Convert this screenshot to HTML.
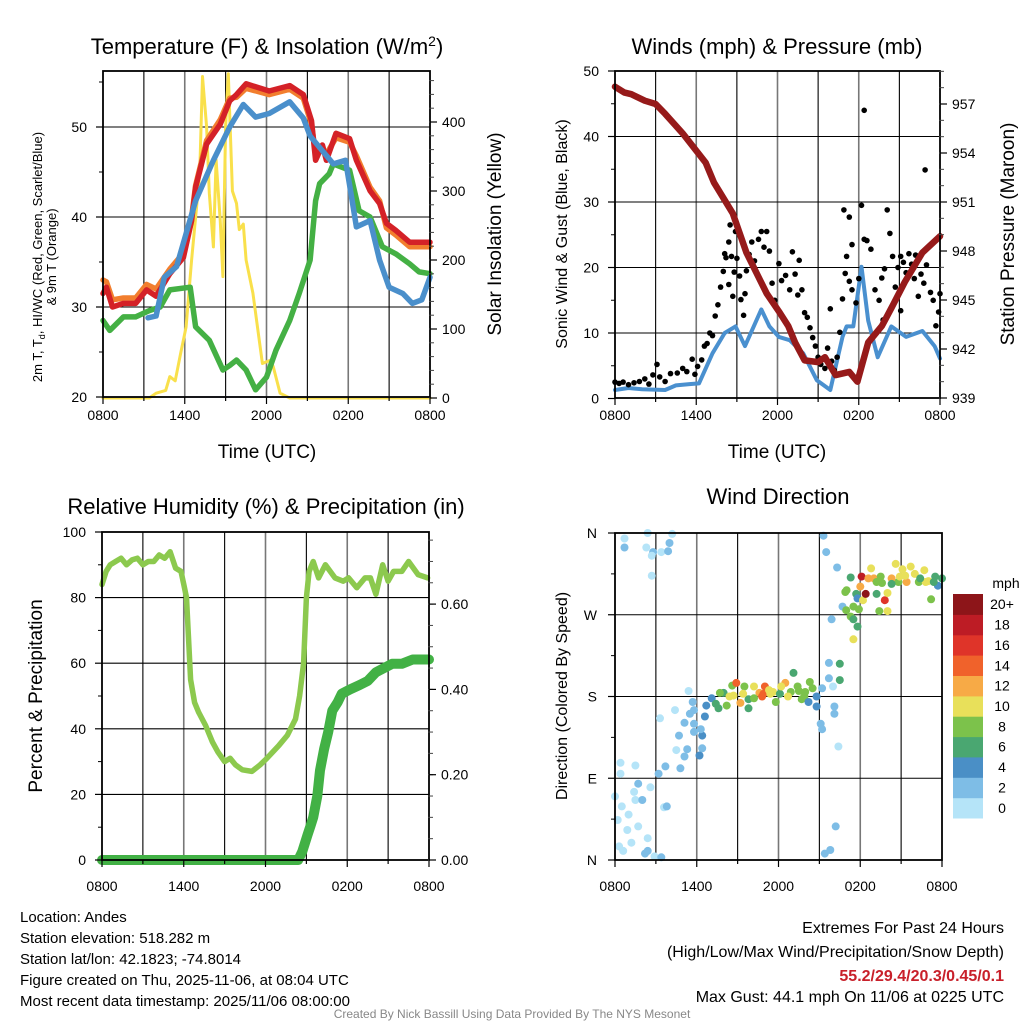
<!DOCTYPE html>
<html><head><meta charset="utf-8"><style>
html,body{margin:0;padding:0;background:#fff}
svg{display:block;font-family:"Liberation Sans",sans-serif}
</style></head><body>
<svg id="fig" width="1024" height="1024" viewBox="0 0 1024 1024" xmlns="http://www.w3.org/2000/svg">
<rect width="1024" height="1024" fill="#fff"/>
<g id="p1"></g>
<g id="p2"></g>
<g id="p3"></g>
<g id="p4"></g>
<g font-size="15" fill="#000">
<text x="20" y="922">Location: Andes</text>
<text x="20" y="943">Station elevation: 518.282 m</text>
<text x="20" y="964">Station lat/lon: 42.1823; -74.8014</text>
<text x="20" y="985">Figure created on Thu, 2025-11-06, at 08:04 UTC</text>
<text x="20" y="1006">Most recent data timestamp: 2025/11/06 08:00:00</text>
</g>
<g font-size="16" text-anchor="end">
<text x="1004" y="933">Extremes For Past 24 Hours</text>
<text x="1004" y="957">(High/Low/Max Wind/Precipitation/Snow Depth)</text>
<text x="1004" y="981" fill="#c8202a" font-weight="bold">55.2/29.4/20.3/0.45/0.1</text>
<text x="1004" y="1002">Max Gust: 44.1 mph On 11/06 at 0225 UTC</text>
</g>
<text x="512" y="1018" text-anchor="middle" font-size="12" fill="#888">Created By Nick Bassill Using Data Provided By The NYS Mesonet</text>
</svg>
<script>
// ---------- DATA ----------
const xTickLabels = ["0800","1400","2000","0200","0800"];
const tRed = [0,0.25,0.7,1.5,2.4,3.2,3.9,4.9,5.9,6.5,6.8,7.6,8.6,9.3,9.8,10.5,12.2,13.7,14.7,15.3,15.6,16.1,16.4,17.1,18.1,18.6,19.6,20.3,20.8,21.5,22.5,24];
const tempRed = [31.5,32.2,30,30.4,30.4,31.9,31.2,33.7,35.5,39.6,43.3,48.1,50.3,52.9,53.6,54.8,54,54.6,53.6,50.7,46.3,48,46.3,49.3,48.7,46.3,42.9,41.5,39.3,38.5,37.2,37.2];
const tempOrange = [33,32.8,30.8,31,31,32.5,32,34.2,36,40,43.5,48.5,50.8,53.2,53.3,54.3,53.6,54.2,53.2,50.3,47,47.5,47,48.8,48.3,46.8,43.3,41.8,38.8,38,36.7,36.7];
const tBlue = [3.3,3.9,4.5,5.4,6.8,8.1,9.3,10.3,11.2,12.2,13.7,14.7,15.2,16.9,17.8,18.2,18.6,19.6,20.3,21.0,22.0,22.7,23.4,24];
const tempBlue = [28.8,29,33.3,34.5,41.8,46.3,50,52.5,51.1,51.5,52.8,51,49,45.9,46.3,42.6,38.9,39.6,35.2,32.2,31.5,30.4,30.8,33.3];
const tGreen = [0,0.5,1.5,2.4,3.4,4.2,4.9,6.4,6.8,7.8,8.8,9.3,9.8,10.5,11.2,12,12.7,13.7,14.4,15.2,15.6,15.9,16.6,16.9,18.1,18.8,19.6,20.5,21.5,22.5,23.2,24];
const tempGreen = [28.5,27.4,28.9,28.9,29.6,30,31.9,32.2,27.8,26.3,23,23.5,24.1,23,20.8,22.2,25.2,28.5,31.5,35.2,41.8,43.7,44.8,45.9,45.2,40.7,40,36.7,35.9,34.8,33.9,33.7];
const tSolar = [0,3.4,3.9,4.6,4.9,5.3,5.7,6.1,6.5,7.1,7.3,7.6,7.8,8.1,8.3,8.6,8.8,9.0,9.2,9.5,9.8,10.0,10.3,10.5,11.0,11.5,11.7,12.3,12.5,13.0,13.7,24];
const solar = [0,0,7,11,31,25,65,103,200,325,466,393,297,219,345,258,176,393,470,300,282,244,252,200,152,79,50,55,45,7,0,0];
const tWind = [0,1,2,3.7,4.5,5.5,6.2,7.2,8.1,8.9,9.6,10.8,11.4,12.1,12.9,13.9,14.9,15.9,16.8,17.1,17.6,18.2,18.7,19.4,20.4,21.5,22.7,23.6,24];
const windSpeed = [1.3,1.6,1.4,1.3,2.0,2.2,2.3,6.9,10,11,8,13.6,11,9.4,8.9,6.9,2.8,1.3,9.4,11,11,20.1,11.9,6.3,11,9.4,10.3,8.0,6.1];
const gustT = [0,0.3,0.6,1,1.4,1.8,2.2,2.5,2.8,3.1,3.3,3.7,4.1,4.6,5,5.3,5.7,5.9,6.1,6.4,6.6,6.8,7,7.2,7.4,7.6,7.8,8.0,8.1,8.2,8.4,8.5,8.6,8.8,8.7,8.4,8.9,9.0,9.2,9.3,9.5,9.6,9.7,9.9,10.1,10.3,10.6,10.8,11,11.2,11.4,11.6,11.8,12.1,12.3,12.6,12.9,13.1,13.3,13.5,13.6,13.8,14.0,14.2,14.4,14.6,14.8,15.0,15.2,15.5,15.7,16,16.2,16.4,15.9,16.6,16.8,17.0,17.1,17.3,17.5,16.9,17.3,17.5,17.8,18,18.2,18.4,18.6,18.9,18.4,19.2,19.5,19.7,19.9,20.1,20.3,20.5,20.7,20.9,21.1,21.3,21.5,21.7,21.9,22.1,22.4,22.6,22.8,23,22.9,23.3,23.5,23.7,23.9,24,22.2,21.1,19.8];
const gustV = [2.5,2.3,2.5,2.1,2.4,2.6,3.0,2.2,3.6,5.2,3.3,2.6,3.8,3.9,4.6,4.1,6.0,3.7,4.9,5.9,8.0,8.4,10,9.6,12.6,14.3,17,19.4,22.1,21.5,23.9,26.5,21.7,19.3,15.6,17.4,25.5,21.4,18.7,15.1,12.7,16.0,19.5,22.0,23.9,21.0,24.3,25.5,23.1,25.5,22.5,17.6,15.0,20.6,18.0,18.8,16.6,22.4,19.0,15.8,21.1,16.6,13.1,12.4,10.8,9.3,8.0,6.3,5.2,4.6,7.7,5.7,4.3,6.3,13.7,10.1,15.2,19.1,21.7,17.9,16.6,28.8,27.7,23.5,14.6,18.3,29.5,24.3,24.1,22.8,44.0,16.6,15.0,18.4,19.8,28.8,25.2,21.7,17.0,20.0,21.7,20.8,19.2,22.1,20.5,18.3,15.6,19.0,17.6,20.4,34.9,16.2,15.0,11.1,13.2,16.0,21.9,13.4,12.0];
const tPres = [0,0.7,1.2,2.2,3,3.7,5,6.7,7.3,8.7,9.7,11.2,12.1,12.8,13.3,14.0,15.0,15.5,16.3,17.3,17.9,18.7,19.7,20.4,21.4,22.7,24];
const pressure = [958.06,957.7,957.6,957.2,957.0,956.4,955.2,953.4,952.2,950.3,947.9,945.4,944.3,943.4,942.4,941.3,941.2,941.5,940.4,940.6,940.0,942.4,943.4,944.5,946.1,947.9,948.9];
const tRH = [0,0.3,0.6,1.0,1.4,1.8,2.2,2.6,3.0,3.4,3.8,4.2,4.6,5.0,5.4,5.8,6.0,6.2,6.5,6.8,7.1,7.6,8.1,8.5,9.0,9.4,9.8,10.3,11.0,11.6,12.1,13.0,13.6,14.2,14.5,14.8,15.0,15.2,15.5,15.9,16.4,17.1,17.7,18.1,18.7,19.3,19.7,20.1,20.6,21.0,21.4,22.0,22.5,23.2,23.9];
const rh = [84,88,90,91,92,90,91.5,92,90,91,91,93,92,94,89,88,84,80,55,48,45,41,36,33,30,31,29,27.5,27,29,31,35,38,43,50,60,80,88,91,86,90,86,85,86,83,86,86,81,90,85,88,88,91,87,86];
const tPrecip = [0,14.4,14.7,15.1,15.3,15.5,15.8,16.0,16.3,16.6,16.9,17.3,17.6,18.2,18.9,19.5,20.1,20.7,21.3,22.0,22.8,24];
const precip = [0,0,0.02,0.06,0.08,0.10,0.15,0.21,0.26,0.30,0.35,0.37,0.39,0.40,0.41,0.42,0.44,0.45,0.46,0.46,0.47,0.47];
const dirT = [0.7,0.7,2.4,2.3,2.8,2.7,3.4,4.0,4.2,3.9,2.7,0.4,0.4,1.5,0,0.5,1.4,1.7,1.5,2.0,2.6,0.2,1,0.9,1.7,1.2,0.3,0.6,2.4,2.2,2.4,2.9,3.4,3.6,3.8,3.2,3.7,3.3,4.4,4.5,4.8,4.7,5.3,5.1,5.1,5.5,5.4,5.7,5.8,5.8,5.8,6.4,6.2,6.4,6.3,6.6,6.7,7.1,7.4,7.6,7.97,8.2,8.6,8.9,8.7,9.2,9.5,9.8,10.2,10.6,10.9,11,11.4,11.6,11.8,12.1,12.5,12.9,13.1,13.4,13.7,13.9,14.2,14.3,14.5,14.8,14.8,9.8,7.7,8.4,9.4,10.2,10.8,11.3,12.2,12.7,13.5,13.96,15.1,15.2,15.2,15.7,16,15.7,16.5,16.5,16.1,16.1,16.4,16.2,15.4,15.8,15.3,15.5,16.3,15.9,16.7,16.97,17.3,17.5,17.8,17.5,16.9,17,17.3,17.7,17.8,17.5,17.9,18.1,18,18.2,18.4,18.6,18.8,19,19.2,19.6,19.8,20,19.4,20,20.3,20.6,20.8,21.1,21.4,21.7,22,22.3,22.7,22.8,23.2,23.5,24,23.7,19.2,19.5,20.3,20.9,21.3,22.4,23,23.4];
const dirDeg = [354,344,360,344,339,335,339,349,359,340,313,107,95,104,70,59,75,84,66,66,80,44,50,33,37,19,15,10,24,7,10,4,3,58,59,95,103,156,165,121,101,137,122,114,151,161,186,174,165,150,141,123,115,137,144,158,170,178,172,167,184,170,192,195,181,173,191,177,191,184,183,191,183,185,174,183,195,185,206,191,177,180,174,196,189,180,169,167,184,180,183,178,180,187,191,180,186,185,150,144,189,200,191,217,216,198,169,161,125,37,7,11,357,339,322,265,279,275,268,265,257,243,295,297,311,293,288,279,276,312,301,286,293,310,321,310,293,305,286,294,274,274,310,326,306,320,306,323,315,306,319,306,287,312,310,302,306,312,304,312,313,310,307,306];
const dirSpd = [1,3,1,1,3,1,1,3,1,3,1,1,1,1,1,1,1,3,1,3,1,1,1,1,1,1,1,1,1,3,3,1,3,1,3,3,3,1,1,1,3,3,3,3,3,3,1,3,3,3,3,3,5,5,3,5,5,5,7,7,7,9,9,14,11,12,9,7,11,12,15,15,10,10,9,7,13,9,6,8,8,9,4,8,8,5,4,6,8,10,10,8,14,11,10,11,8,8,3,3,3,3,1,3,6,6,3,3,1,3,3,3,3,3,3,3,3,9,8,7,6,10,8,8,6,6,4,8,8,18,12,10,20,12,10,13,6,8,16,10,8,10,12,10,8,10,13,10,10,8,10,10,8,6,6,4,8,8,6,10,10,6,10,6];
const cbLabels = ["0","2","4","6","8","10","12","14","16","18","20+"];
const cbColors = ["#b5e4f8","#7ebde6","#4a8fc6","#4aa771","#7cc24b","#e8e05a","#f7aa46","#f0622b","#df3429","#bd1c25","#8d1519"];
const tempTicks = [20,30,40,50];
const solarTicks = [0,100,200,300,400];
const windTicks = [0,10,20,30,40,50];
const presTicks = [939,942,945,948,951,954,957];
const rhTicks = [0,20,40,60,80,100];
const precipTicks = [0,0.2,0.4,0.6];
const dirTicks = [0,90,180,270,360];
const dirTickLabels = ["N","E","S","W","N"];

// ---------- HELPERS ----------
const NS="http://www.w3.org/2000/svg";
function mk(parent,tag,attrs,txt){const e=document.createElementNS(NS,tag);for(const k in attrs)e.setAttribute(k,attrs[k]);if(txt!==undefined)e.textContent=txt;parent.appendChild(e);return e;}
function lin(d0,d1,r0,r1){return v=>r0+(v-d0)/(d1-d0)*(r1-r0);}
function pathD(xs,ys,fx,fy){return xs.map((t,i)=>(i?"L":"M")+fx(t).toFixed(1)+","+fy(ys[i]).toFixed(1)).join("");}

function frame(g,L,T,R,B,fx,leftTicks,fyL){
  for(let h=3;h<24;h+=3){const l=mk(g,"line",{x1:fx(h),x2:fx(h),y1:T,y2:B,stroke:h%6===0?"#777":"#000","stroke-width":h%6===0?1.6:1.1});
    
    }
  leftTicks.forEach(v=>{const y=fyL(v);if(y>T+1&&y<B-1){const l=mk(g,"line",{x1:L,x2:R,y1:y,y2:y,stroke:"#000","stroke-width":1.1});
    
    }});
}
function border(g,L,T,R,B,fx,xLabels,xLabelY){
  const r=mk(g,"rect",{x:L,y:T,width:R-L,height:B-T,fill:"none",stroke:"#000","stroke-width":1.8});
  
  
  for(let h=0;h<=24;h+=3){mk(g,"line",{x1:fx(h),x2:fx(h),y1:B,y2:B+(h%6===0?7:4),stroke:"#000","stroke-width":1.2});}
  xLabels.forEach((s,i)=>{const t=mk(g,"text",{x:fx(i*6),y:xLabelY,"text-anchor":"middle","font-size":14},s);
    
    });
}
function leftAxis(g,L,ticks,fy,fmt,fs){ticks.forEach(v=>{const y=fy(v);mk(g,"line",{x1:L-7,x2:L,y1:y,y2:y,stroke:"#000","stroke-width":1.2});
  const t=mk(g,"text",{x:L-16,y:y+5,"text-anchor":"end","font-size":fs||14},fmt(v));
  
  });}
function rightAxis(g,R,ticks,fy,fmt,minorStep,lo,hi){
  if(minorStep){for(let v=lo;v<=hi+1e-9;v+=minorStep){const y=fy(v);mk(g,"line",{x1:R-1,x2:R+4,y1:y,y2:y,stroke:"#444","stroke-width":1});}}
  ticks.forEach(v=>{const y=fy(v);mk(g,"line",{x1:R,x2:R+7,y1:y,y2:y,stroke:"#000","stroke-width":1.2});
  const t=mk(g,"text",{x:R+12,y:y+5,"font-size":14},fmt(v));
  
  });}
function line(g,xs,ys,fx,fy,col,w,name){const p=mk(g,"path",{d:pathD(xs,ys,fx,fy),fill:"none",stroke:col,"stroke-width":w,"stroke-linejoin":"round","stroke-linecap":"round"});
  
  return p;}
function title(g,x,y,s,fs){const t=mk(g,"text",{x:x,y:y,"text-anchor":"middle","font-size":fs||22},s);
  
  return t;}
function vlabel(g,x,y,s,fs,name){const t=mk(g,"text",{x:x,y:y,"text-anchor":"middle","font-size":fs,transform:"rotate(-90 "+x+" "+y+")"},s);
  
  return t;}

// ---------- PANEL 1 ----------
(function(){
  const g=document.getElementById("p1");const L=103,R=430,T=71,B=397;
  const fx=lin(0,24,L,R), fy=lin(20,30,397,307), fs=lin(0,100,398,329);
  frame(g,L,T,R,B,fx,tempTicks,fy);
  line(g,tSolar,solar,fx,fs,"#f9e04b",3,"solar-insolation-line");
  line(g,tRed,tempOrange,fx,fy,"#f27e2e",5.5,"temp-9m-orange-line");
  line(g,tRed,tempRed,fx,fy,"#d42127",5.5,"temp-2m-red-line");
  line(g,tGreen,tempGreen,fx,fy,"#44b044",5.5,"dewpoint-green-line");
  line(g,tBlue,tempBlue,fx,fy,"#4a8fcb",5.5,"heat-index-blue-line");
  mk(g,"line",{x1:L,x2:R,y1:397,y2:397,stroke:"#c8c8ff","stroke-width":1.5});
  border(g,L,T,R,B,fx,xTickLabels,420);
  leftAxis(g,L,tempTicks,fy,v=>String(v));
  for(let v=25;v<=55;v+=10){const y=fy(v);mk(g,"line",{x1:L-4,x2:L,y1:y,y2:y,stroke:"#000"});}
  rightAxis(g,R,solarTicks,fs,v=>String(v),20,0,460);
  const t=title(g,267,54,"");
  t.innerHTML='Temperature (F) &amp; Insolation (W/m<tspan dy="-8" font-size="14">2</tspan><tspan dy="8">)</tspan>';
  const xl=mk(g,"text",{x:267,y:458,"text-anchor":"middle","font-size":19},"Time (UTC)");
  
  
  const a=vlabel(g,42,257,"",13,"left-axis-title");
  a.innerHTML='2m T, T<tspan font-size="9" dy="3">d</tspan><tspan dy="-3">, HI/WC (Red, Green, Scarlet/Blue)</tspan>';
  vlabel(g,56,257,"& 9m T (Orange)",13,"left-axis-title-line2");
  vlabel(g,501,234,"Solar Insolation (Yellow)",19,"right-axis-title");
})();

// ---------- PANEL 2 ----------
(function(){
  const g=document.getElementById("p2");const L=615,R=940,T=71,B=398;
  const fx=lin(0,24,L,R), fy=lin(0,10,398.5,333), fp=lin(939,957,398,104);
  frame(g,L,T,R,B,fx,windTicks,fy);
  line(g,tWind,windSpeed,fx,fy,"#4a90cf",4,"sonic-wind-line");
  gustT.forEach((t,i)=>{const c=mk(g,"circle",{cx:fx(t).toFixed(1),cy:fy(gustV[i]).toFixed(1),r:2.8,fill:"#000"});
    
    });
  line(g,tPres,pressure,fx,fp,"#961a1a",6.5,"station-pressure-line");
  border(g,L,T,R,B,fx,xTickLabels,420);
  leftAxis(g,L,windTicks,fy,v=>String(v));
  for(let v=5;v<50;v+=10){const y=fy(v);mk(g,"line",{x1:L-4,x2:L,y1:y,y2:y,stroke:"#000"});}
  rightAxis(g,R,presTicks,fp,v=>String(v),1,939,959);
  title(g,777,54,"Winds (mph) & Pressure (mb)");
  const xl=mk(g,"text",{x:777,y:458,"text-anchor":"middle","font-size":19},"Time (UTC)");
  
  
  vlabel(g,567,234,"Sonic Wind & Gust (Blue, Black)",16,"left-axis-title");
  vlabel(g,1014,234,"Station Pressure (Maroon)",19,"right-axis-title");
})();

// ---------- PANEL 3 ----------
(function(){
  const g=document.getElementById("p3");const L=102,R=429,T=532,B=860;
  const fx=lin(0,24,L,R), fy=lin(0,100,860,532), fp=lin(0,0.2,860,774.7);
  frame(g,L,T,R,B,fx,rhTicks,fy);
  line(g,tRH,rh,fx,fy,"#8cc94e",5.5,"relative-humidity-line");
  line(g,tPrecip,precip,fx,fp,"#42b145",10,"precipitation-line");
  border(g,L,T,R,B,fx,xTickLabels,891);
  leftAxis(g,L,rhTicks,fy,v=>String(v));
  for(let v=10;v<100;v+=20){const y=fy(v);mk(g,"line",{x1:L-4,x2:L,y1:y,y2:y,stroke:"#000"});}
  rightAxis(g,R,precipTicks,fp,v=>v.toFixed(2),0.05,0,0.75);
  title(g,266,514,"Relative Humidity (%) & Precipitation (in)");
  vlabel(g,42,696,"Percent & Precipitation",19,"left-axis-title");
})();

// ---------- PANEL 4 ----------
(function(){
  const g=document.getElementById("p4");const L=615,R=942,T=533,B=860;
  const fx=lin(0,24,L,R), fy=lin(0,360,860,533);
  frame(g,L,T,R,B,fx,dirTicks,fy);
  dirT.forEach((t,i)=>{const bin=Math.min(10,Math.floor(dirSpd[i]/2));
    const c=mk(g,"circle",{cx:fx(t).toFixed(1),cy:fy(dirDeg[i]).toFixed(1),r:4,fill:cbColors[bin]});
    
    });
  border(g,L,T,R,B,fx,xTickLabels,891);
  dirTicks.forEach((v,i)=>{const y=fy(v);mk(g,"line",{x1:L-7,x2:L,y1:y,y2:y,stroke:"#000","stroke-width":1.2});
    const t=mk(g,"text",{x:L-18,y:y+5,"text-anchor":"end","font-size":14},dirTickLabels[i]);
    
    });
  for(let v=45;v<360;v+=90){const y=fy(v);mk(g,"line",{x1:L-4,x2:L,y1:y,y2:y,stroke:"#000"});}
  title(g,778,504,"Wind Direction");
  vlabel(g,567,696,"Direction (Colored By Speed)",16,"left-axis-title");
  const cbT=594,cbB=818,cbL=953,cbW=30,h=(cbB-cbT)/cbColors.length;
  cbColors.forEach((c,i)=>{const r=mk(g,"rect",{x:cbL,y:(cbB-(i+1)*h).toFixed(1),width:cbW,height:(h+0.5).toFixed(1),fill:c});
    
    
    const t=mk(g,"text",{x:1002,y:(cbB-(i+0.5)*h+5).toFixed(1),"text-anchor":"middle","font-size":14},cbLabels[i]);
    
    });
  const u=mk(g,"text",{x:1006,y:588,"text-anchor":"middle","font-size":14},"mph");
  
  
})();
</script>
</body></html>
